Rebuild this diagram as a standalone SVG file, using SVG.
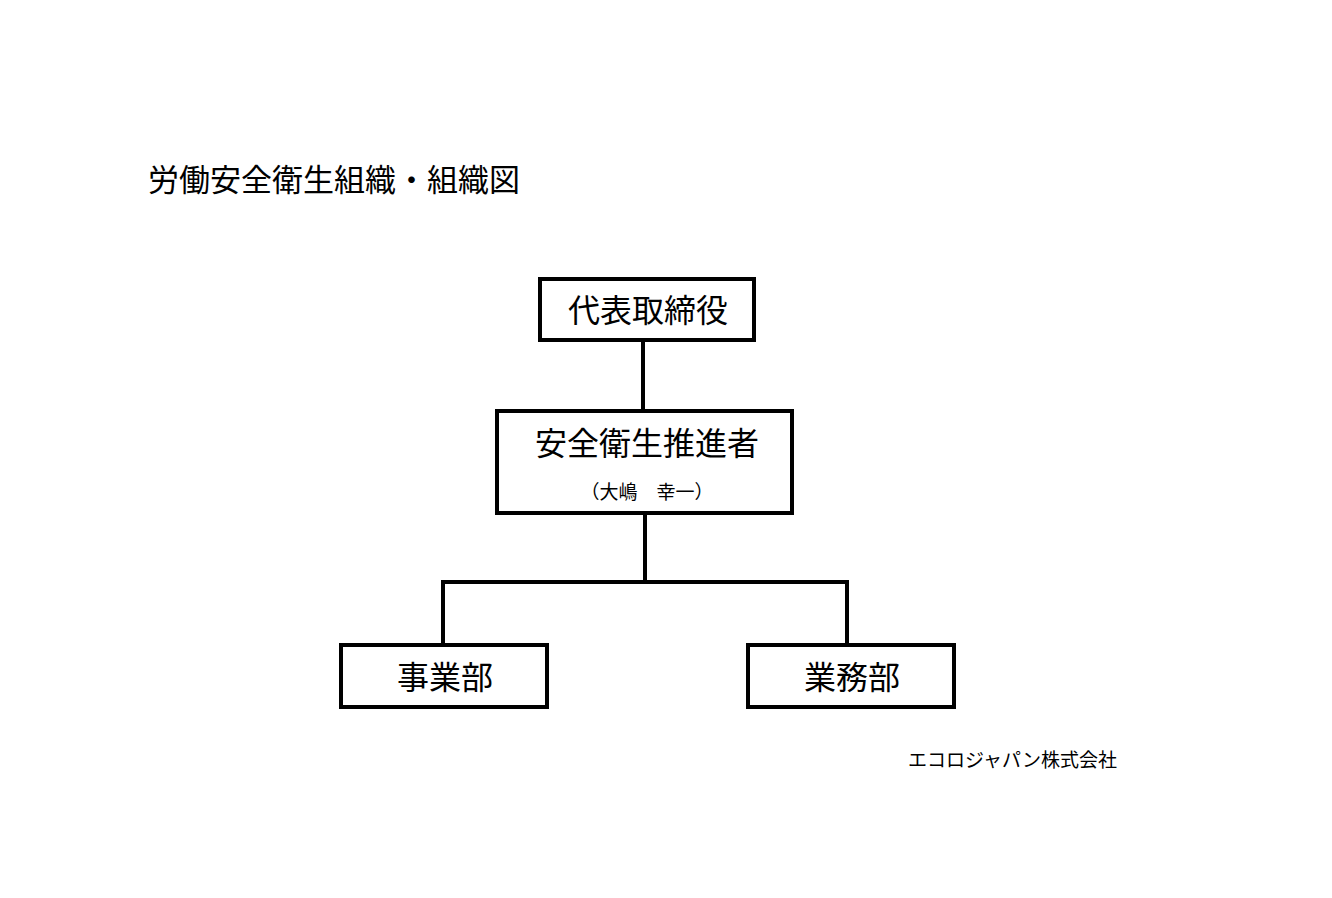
<svg xmlns="http://www.w3.org/2000/svg" width="1332" height="898" viewBox="0 0 1332 898">
<style>
text{font-family:"Noto Sans CJK JP","Noto Sans CJK SC",sans-serif;fill:#000}
.box{fill:#fff;stroke:#000;stroke-width:4}
.ln{stroke:#000;stroke-width:4;fill:none}
.big{font-size:32px;text-anchor:middle}
</style>
<rect width="1332" height="898" fill="#fff"/>
<text x="148" y="191" font-size="31">労働安全衛生組織・組織図</text>
<g id="connectors">
<line class="ln" x1="643" y1="341" x2="643" y2="410"/>
<line class="ln" x1="645" y1="514" x2="645" y2="582"/>
<polyline class="ln" points="443,643 443,582 847,582 847,643"/>
</g>
<g id="n1"><rect class="box" x="540" y="279" width="214" height="61"/><text class="big" x="648" y="322">代表取締役</text></g>
<g id="n2"><rect class="box" x="497" y="411" width="295" height="102"/><text class="big" x="647" y="455">安全衛生推進者</text><text x="647" y="499" font-size="19" text-anchor="middle">（大嶋　幸一）</text></g>
<g id="n3"><rect class="box" x="341" y="645" width="206" height="62"/><text class="big" x="445" y="689">事業部</text></g>
<g id="n4"><rect class="box" x="748" y="645" width="206" height="62"/><text class="big" x="852" y="689">業務部</text></g>
<text x="908" y="767" font-size="19">エコロジャパン株式会社</text>
</svg>
